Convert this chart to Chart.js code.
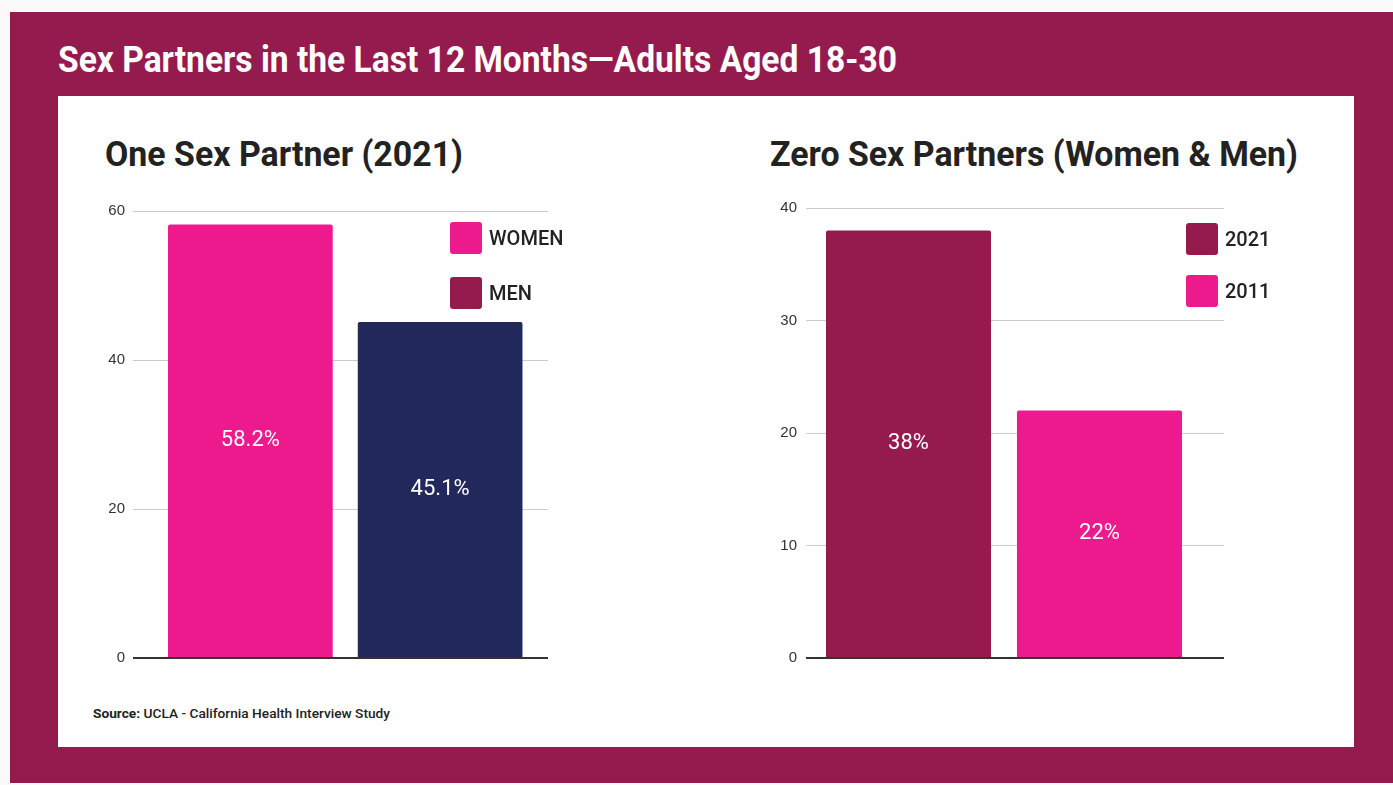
<!DOCTYPE html>
<html>
<head>
<meta charset="utf-8">
<script src="https://cdn.jsdelivr.net/npm/chart.js@4.4.1/dist/chart.umd.min.js"></script>
<style>
  html, body { margin:0; padding:0; background:#fafafa; width:1393px; height:785px; overflow:hidden; }
  .frame { position:absolute; left:10px; top:12px; width:1383px; height:771px; background:#951B4F; }
  .panel { position:absolute; left:58px; top:96px; width:1296px; height:651px; background:#ffffff; }
  .txt { position:absolute; white-space:nowrap; transform-origin:0 0; font-family:Roboto, "Liberation Sans", sans-serif; }
  #mainTitle { left:58px; top:38px; color:#fff; font-weight:700; font-size:37px; line-height:44px; }
  .sub { color:#222; font-weight:700; font-size:35px; line-height:42px; }
  #leftTitle { left:105px; top:134px; }
  #rightTitle { left:770px; top:134px; }
  #source { left:93px; top:706px; color:#222; font-size:12.5px; font-weight:500; line-height:16px; }
  #source b { font-weight:700; }
  canvas { position:absolute; }
</style>
</head>
<body>
<div class="frame"></div>
<div class="panel"></div>
<div class="txt" id="mainTitle" data-w="839">Sex Partners in the Last 12 Months—Adults Aged 18-30</div>
<div class="txt sub" id="leftTitle" data-w="358">One Sex Partner (2021)</div>
<div class="txt sub" id="rightTitle" data-w="528">Zero Sex Partners (Women &amp; Men)</div>
<div class="txt" id="source" data-w="297"><b>Source:</b> UCLA - California Health Interview Study</div>
<canvas id="leftChart" width="520" height="490" style="left:60px;top:190px;width:520px;height:490px"></canvas>
<canvas id="rightChart" width="600" height="490" style="left:700px;top:190px;width:600px;height:490px"></canvas>
<script>
// ---- data ----
const leftCategories = ['WOMEN', 'MEN'];
const leftValues = [58.2, 45.1];
const leftBarColors = ['#EC1A8C', '#22285B'];
const leftLegendLabels = ['WOMEN', 'MEN'];
const leftLegendColors = ['#EC1A8C', '#951B4F'];
const leftAxisMax = 60;
const leftAxisStep = 20;

const rightCategories = ['2021', '2011'];
const rightValues = [38, 22];
const rightBarColors = ['#951B4F', '#EC1A8C'];
const rightLegendLabels = ['2021', '2011'];
const rightLegendColors = ['#951B4F', '#EC1A8C'];
const rightAxisMax = 40;
const rightAxisStep = 10;

// fit text widths
document.querySelectorAll('.txt[data-w]').forEach(el => {
  const w = el.getBoundingClientRect().width;
  const target = parseFloat(el.dataset.w);
  el.style.transform = 'scaleX(' + (target / w) + ')';
});

const barLabelPlugin = {
  id: 'barLabels',
  afterDatasetsDraw(chart) {
    const ctx = chart.ctx;
    const meta = chart.getDatasetMeta(0);
    const vals = chart.data.datasets[0].data;
    ctx.save();
    ctx.fillStyle = '#ffffff';
    ctx.font = '400 22px Roboto, "Liberation Sans", sans-serif';
    ctx.textAlign = 'center';
    ctx.textBaseline = 'middle';
    meta.data.forEach((bar, i) => {
      const p = bar.getProps(['x', 'y', 'base'], true);
      ctx.fillText(vals[i] + '%', p.x, (p.y + p.base) / 2);
    });
    ctx.restore();
  }
};

const customLegendPlugin = {
  id: 'customLegend',
  afterDraw(chart, args, opts) {
    const ctx = chart.ctx;
    ctx.save();
    opts.labels.forEach((lab, i) => {
      const x = opts.x, y = opts.y + i * opts.rowGap;
      ctx.fillStyle = opts.colors[i];
      ctx.beginPath();
      ctx.roundRect(x, y, opts.box, opts.box, 3);
      ctx.fill();
      ctx.fillStyle = '#222';
      ctx.font = '500 20px Roboto, "Liberation Sans", sans-serif';
      ctx.textAlign = 'left';
      ctx.textBaseline = 'middle';
      ctx.fillText(lab, x + opts.box + 7, y + opts.box / 2 + 2);
    });
    ctx.restore();
  }
};

function gridColor(c) { return c.tick && c.tick.value === 0 ? '#333333' : '#cccccc'; }
function gridWidth(c) { return c.tick && c.tick.value === 0 ? 2 : 1; }

function makeChart(id, cats, vals, colors, yMax, yStep, geo, legendLabels, legendColors) {
  return new Chart(document.getElementById(id), {
    type: 'bar',
    data: {
      labels: cats,
      datasets: [{
        data: vals,
        backgroundColor: colors,
        borderRadius: 2,
        borderSkipped: 'bottom',
        categoryPercentage: 1,
        barPercentage: geo.barPct
      }]
    },
    plugins: [barLabelPlugin, customLegendPlugin],
    options: {
      responsive: false,
      animation: false,
      layout: { padding: { top: geo.top, right: geo.right, bottom: geo.bottom, left: 0 } },
      plugins: {
        legend: { display: false },
        tooltip: { enabled: false },
        customLegend: { labels: legendLabels, colors: legendColors, x: geo.legX, y: geo.legY, rowGap: geo.legGap, box: 32 }
      },
      scales: {
        x: { display: false },
        y: {
          position: 'left', min: 0, max: yMax,
          ticks: { stepSize: yStep, color: '#333', padding: geo.tickPad, font: { family: '"Liberation Sans", Arial, sans-serif', size: 15 } },
          grid: { color: gridColor, lineWidth: gridWidth, tickLength: geo.tickL, drawTicks: true },
          border: { display: false },
          afterFit(s) { s.width = geo.yWidth; }
        },
        y2: {
          position: 'right', min: 0, max: yMax,
          ticks: { display: false, stepSize: yStep },
          grid: { drawOnChartArea: false, drawTicks: true, tickLength: geo.tickR, color: gridColor, lineWidth: gridWidth },
          border: { display: false },
          afterFit(s) { s.width = geo.tickR; }
        }
      }
    }
  });
}

makeChart('leftChart', leftCategories, leftValues, leftBarColors, leftAxisMax, leftAxisStep,
  { barPct: 0.868, top: 21, right: 32, bottom: 22, yWidth: 95.5, tickL: 22.5, tickR: 13, tickPad: 8,
    legX: 390, legY: 32, legGap: 55 },
  leftLegendLabels, leftLegendColors);

makeChart('rightChart', rightCategories, rightValues, rightBarColors, rightAxisMax, rightAxisStep,
  { barPct: 0.864, top: 18, right: 76, bottom: 22, yWidth: 113, tickL: 7, tickR: 29, tickPad: 9,
    legX: 486, legY: 33, legGap: 52 },
  rightLegendLabels, rightLegendColors);
</script>
</body>
</html>
